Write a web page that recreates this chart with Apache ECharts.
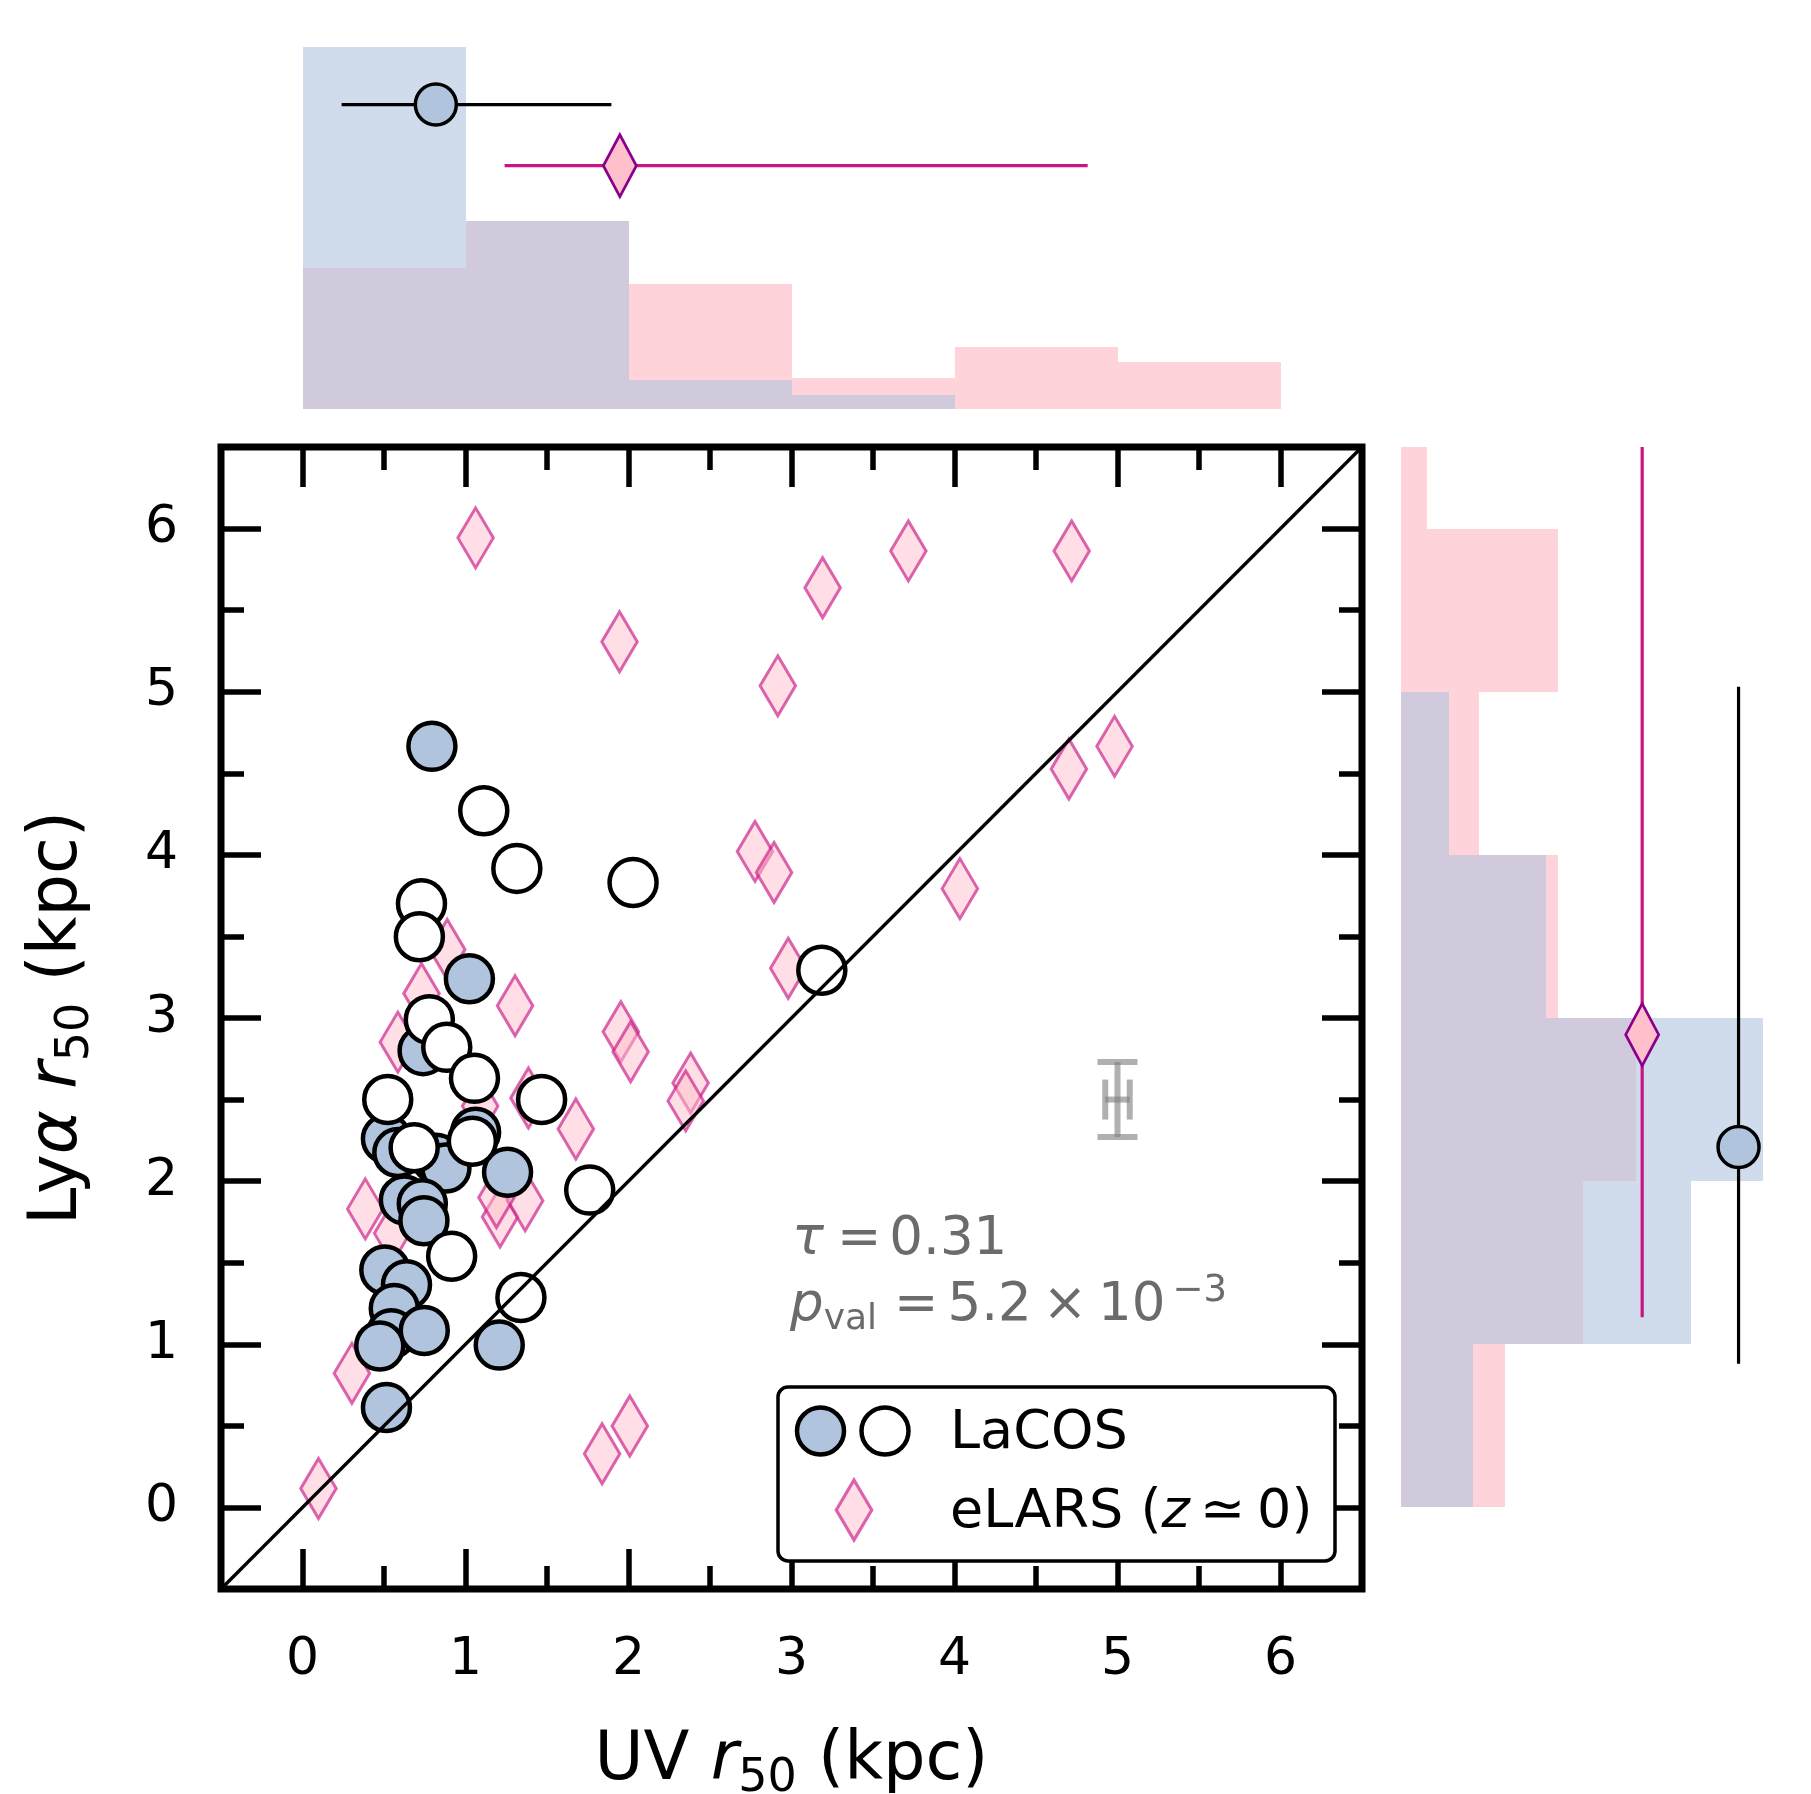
<!DOCTYPE html>
<html>
<head>
<meta charset="utf-8">
<title>Lya r50 vs UV r50</title>
<script src="https://cdn.jsdelivr.net/npm/echarts@6/dist/echarts.min.js"></script>
<style>
    html, body { margin: 0; padding: 0; background: #fff; }
    #chart { width: 1811px; height: 1794px; }
</style>
</head>
<body>
<div id="chart"></div>
<script>
    // LaCOS, filled circles: [UV r50, Lya r50] (kpc)
    const lacosFilled = [
        [0.794, 4.665], [1.024, 3.240], [0.740, 2.800], [0.515, 2.260], [0.585, 2.175],
        [0.820, 2.140], [0.880, 2.080], [1.062, 2.300], [1.258, 2.055], [0.625, 1.885],
        [0.735, 1.862], [0.745, 1.757], [0.505, 1.455], [0.638, 1.365], [0.563, 1.220],
        [0.545, 1.065], [0.474, 0.990], [0.747, 1.085], [1.207, 0.995], [0.515, 0.612]
    ];
    // LaCOS, open circles
    const lacosOpen = [
        [1.112, 4.270], [1.315, 3.917], [2.028, 3.830], [0.730, 3.700], [0.717, 3.498],
        [3.186, 3.293], [0.778, 2.990], [0.885, 2.820], [1.055, 2.630], [0.523, 2.500],
        [1.467, 2.500], [1.042, 2.245], [0.685, 2.205], [1.762, 1.945], [0.915, 1.540],
        [1.340, 1.287]
    ];
    // eLARS (z ~ 0)
    const elars = [
        [1.062, 5.943], [1.945, 5.306], [3.191, 5.637], [3.717, 5.863], [4.719, 5.863],
        [2.916, 5.036], [4.982, 4.665], [4.702, 4.526], [2.776, 4.021], [2.893, 3.892],
        [4.033, 3.793], [2.980, 3.305], [1.304, 3.075], [1.953, 2.916], [2.013, 2.793],
        [2.381, 2.601], [2.351, 2.492], [1.677, 2.320], [0.385, 1.830], [0.303, 0.822],
        [0.098, 0.116], [1.838, 0.329], [2.008, 0.499], [1.212, 1.780], [1.366, 1.880],
        [0.585, 2.852], [0.730, 3.150], [0.888, 3.420], [1.386, 2.510], [1.090, 2.460],
        [0.550, 1.680], [1.190, 1.900]
    ];
    // typical error [x, y, xerr, yerr]
    const typicalErr = [[5.0, 2.5, 0.075, 0.23]];

    // histograms (density), bins of 1 kpc
    const binEdges = [0, 1, 2, 3, 4, 5, 6, 7];
    const uvDensLacos = [0.610, 0.317, 0.049, 0.024, 0, 0];
    const uvDensElars = [0.237, 0.316, 0.211, 0.053, 0.105, 0.079];
    const lyaDensLacos = [0.077, 0.308, 0.385, 0.154, 0.051, 0, 0];
    const lyaDensElars = [0.111, 0.194, 0.250, 0.167, 0.083, 0.167, 0.028];

    // [16th pct, median, 84th pct]
    const uvStatLacos = [0.24, 0.818, 1.895];
    const uvStatElars = [1.24, 1.947, 4.817];
    const lyaStatLacos = [0.881, 2.209, 5.03];
    const lyaStatElars = [1.166, 2.898, 6.8];

    const axisRange = [-0.5, 6.5];
    const majorTicks = [0, 1, 2, 3, 4, 5, 6];
    const minorTicks = [0.5, 1.5, 2.5, 3.5, 4.5, 5.5];

    const FONT = 'DejaVu Sans';
    const BLUE = '#B0C4DE';
    const GREY_TXT = '#6b6b6b';
    const HIST_BLUE = 'rgba(176,196,222,0.6)';
    const HIST_PINK = 'rgba(255,192,203,0.7)';
    const DIA_FILL = 'rgba(255,192,203,0.5)';
    const DIA_EDGE = 'rgba(199,21,133,0.65)';

    function tickAxis(grid, position, values, len, labels, extra) {
        const bottom = position === 'bottom';
        return Object.assign({
            gridIndex: grid,
            type: 'value',
            position: position,
            min: axisRange[0],
            max: axisRange[1],
            axisLine: {show: false, onZero: false},
            splitLine: {show: false},
            axisTick: {
                show: true, inside: true, length: len, customValues: values,
                lineStyle: {color: '#000', width: 5.5}
            },
            axisLabel: labels ? {
                show: true, customValues: values, margin: bottom ? 45 : 43,
                fontSize: 52, fontFamily: FONT, color: '#000'
            } : {show: false}
        }, extra || {});
    }

    function hiddenAxis(grid, min, max) {
        return {gridIndex: grid, type: 'value', min: min, max: max, show: false,
            axisLine: {onZero: false}, splitLine: {show: false}};
    }

    //直方图
    function histSeries(dens, horizontal, xi, yi, fill, z) {
        return {
            type: 'custom', xAxisIndex: xi, yAxisIndex: yi, clip: true, silent: true, z: z,
            data: dens.map(function (d, i) { return [binEdges[i], binEdges[i + 1], d]; }),
            renderItem: function (params, api) {
                const a = api.value(0), b = api.value(1), h = api.value(2);
                const p0 = horizontal ? api.coord([0, a]) : api.coord([a, 0]);
                const p1 = horizontal ? api.coord([h, b]) : api.coord([b, h]);
                const x0 = Math.round(Math.min(p0[0], p1[0])), x1 = Math.round(Math.max(p0[0], p1[0]));
                const y0 = Math.round(Math.min(p0[1], p1[1])), y1 = Math.round(Math.max(p0[1], p1[1]));
                return {type: 'rect', shape: {x: x0, y: y0, width: x1 - x0, height: y1 - y0},
                    style: {fill: fill}};
            }
        };
    }

    // summary error bar (median + percentiles) drawn over the histograms
    function statSeries(stat, pos, horizontal, xi, yi, color, z) {
        return {
            type: 'custom', xAxisIndex: xi, yAxisIndex: yi, clip: true, silent: true, z: z,
            data: [[stat[0], stat[2], pos]],
            renderItem: function (params, api) {
                const lo = api.value(0), hi = api.value(1), p = api.value(2);
                const a = horizontal ? api.coord([lo, p]) : api.coord([p, lo]);
                const b = horizontal ? api.coord([hi, p]) : api.coord([p, hi]);
                return {type: 'line', shape: {x1: a[0], y1: a[1], x2: b[0], y2: b[1]},
                    style: {stroke: color, lineWidth: 3.2}};
            }
        };
    }

    function medianMarker(point, xi, yi, isCircle, z) {
        return {
            type: 'scatter', xAxisIndex: xi, yAxisIndex: yi, silent: true, z: z,
            data: [point],
            symbol: isCircle ? 'circle' : 'diamond',
            symbolSize: isCircle ? 41 : [33, 62],
            itemStyle: isCircle
                ? {color: BLUE, borderColor: '#000', borderWidth: 3.5, opacity: 1}
                : {color: '#FFC0CB', borderColor: '#8B008B', borderWidth: 3, opacity: 1}
        };
    }

    const chart = echarts.init(document.getElementById('chart'), null, {renderer: 'canvas'});

    const titleRich = {
        n: {fontFamily: FONT, fontSize: 67, color: '#000'},
        i: {fontFamily: FONT, fontSize: 67, fontStyle: 'italic', color: '#000'},
        s: {fontFamily: FONT, fontSize: 46, color: '#000', padding: [35, 0, 0, 0]}
    };

    const option = {
        animation: false,
        backgroundColor: '#fff',
        textStyle: {fontFamily: FONT},
        grid: [
            {left: 221, top: 447, width: 1141, height: 1142, show: true, outerBoundsMode: 'none',
                containLabel: false, borderColor: '#000', borderWidth: 7, backgroundColor: 'transparent'},
            {left: 221, top: 47, width: 1141, height: 362, outerBoundsMode: 'none', containLabel: false},
            {left: 1401, top: 447, width: 362, height: 1142, outerBoundsMode: 'none', containLabel: false}
        ],
        xAxis: [
            tickAxis(0, 'bottom', majorTicks, 40, true, {
                name: '{n|UV }{i|r}{s|50}{n| (kpc)}',
                nameLocation: 'middle',
                nameGap: 132,
                nameTextStyle: {fontFamily: FONT, fontSize: 67, color: '#000', rich: titleRich}
            }),
            tickAxis(0, 'bottom', minorTicks, 23, false),
            tickAxis(0, 'top', majorTicks, 40, false),
            tickAxis(0, 'top', minorTicks, 23, false),
            hiddenAxis(1, axisRange[0], axisRange[1]),
            hiddenAxis(2, 0, 0.385)
        ],
        yAxis: [
            tickAxis(0, 'left', majorTicks, 40, true, {
                name: '{n|Ly}{i|α}{n| }{i|r}{s|50}{n| (kpc)}',
                nameLocation: 'middle',
                nameGap: 122,
                nameTextStyle: {fontFamily: FONT, fontSize: 67, color: '#000', rich: titleRich}
            }),
            tickAxis(0, 'left', minorTicks, 23, false),
            tickAxis(0, 'right', majorTicks, 40, false),
            tickAxis(0, 'right', minorTicks, 23, false),
            hiddenAxis(1, 0, 0.61),
            hiddenAxis(2, axisRange[0], axisRange[1])
        ],
        series: [
            // top histogram (UV r50)
            histSeries(uvDensElars, false, 4, 4, HIST_PINK, 1),
            histSeries(uvDensLacos, false, 4, 4, HIST_BLUE, 2),
            statSeries(uvStatLacos, 0.513, true, 4, 4, '#000', 3),
            statSeries(uvStatElars, 0.41, true, 4, 4, '#C71585', 3),
            medianMarker([uvStatLacos[1], 0.513], 4, 4, true, 4),
            medianMarker([uvStatElars[1], 0.41], 4, 4, false, 4),

            // right histogram (Lya r50)
            histSeries(lyaDensElars, true, 5, 5, HIST_PINK, 1),
            histSeries(lyaDensLacos, true, 5, 5, HIST_BLUE, 2),
            statSeries(lyaStatElars, 0.2565, false, 5, 5, '#C71585', 3),
            statSeries(lyaStatLacos, 0.359, false, 5, 5, '#000', 3),
            medianMarker([0.2565, lyaStatElars[1]], 5, 5, false, 4),
            medianMarker([0.359, lyaStatLacos[1]], 5, 5, true, 4),

            // main scatter
            {
                name: 'eLARS', type: 'scatter', xAxisIndex: 0, yAxisIndex: 0, z: 2, silent: true,
                data: elars, symbol: 'diamond', symbolSize: [35.5, 60],
                itemStyle: {color: DIA_FILL, borderColor: DIA_EDGE, borderWidth: 3.2, opacity: 1}
            },
            {
                name: 'LaCOS', type: 'scatter', xAxisIndex: 0, yAxisIndex: 0, z: 3, silent: true,
                data: lacosFilled, symbol: 'circle', symbolSize: 47,
                itemStyle: {color: BLUE, borderColor: '#000', borderWidth: 4.5, opacity: 1}
            },
            {
                name: 'LaCOS open', type: 'scatter', xAxisIndex: 0, yAxisIndex: 0, z: 4, silent: true,
                data: lacosOpen, symbol: 'circle', symbolSize: 47,
                itemStyle: {color: '#fff', borderColor: '#000', borderWidth: 4.5, opacity: 1}
            },
            {
                name: '1:1', type: 'line', xAxisIndex: 0, yAxisIndex: 0, z: 5, silent: true,
                data: [[axisRange[0], axisRange[0]], [axisRange[1], axisRange[1]]],
                symbol: 'none', lineStyle: {color: '#000', width: 3.3}
            },
            {
                name: 'typical error', type: 'custom', xAxisIndex: 0, yAxisIndex: 0, z: 5, silent: true,
                data: typicalErr,
                renderItem: function (params, api) {
                    const x = api.value(0), y = api.value(1), xe = api.value(2), ye = api.value(3);
                    const t = api.coord([x, y + ye]), b = api.coord([x, y - ye]);
                    const l = api.coord([x - xe, y]), r = api.coord([x + xe, y]);
                    const cap = 20;
                    const st = {stroke: 'rgba(128,128,128,0.62)', lineWidth: 6};
                    const seg = function (x1, y1, x2, y2) {
                        return {type: 'line', shape: {x1: x1, y1: y1, x2: x2, y2: y2}, style: st};
                    };
                    return {type: 'group', children: [
                        seg(t[0], t[1], b[0], b[1]),
                        seg(t[0] - cap, t[1], t[0] + cap, t[1]),
                        seg(b[0] - cap, b[1], b[0] + cap, b[1]),
                        seg(l[0], l[1], r[0], r[1]),
                        seg(l[0], l[1] - cap, l[0], l[1] + cap),
                        seg(r[0], r[1] - cap, r[0], r[1] + cap)
                    ]};
                }
            }
        ],
        graphic: [
            // Kendall tau
            {
                type: 'text', z: 50, x: 792, y: 1240,
                style: {
                    text: '{i|τ}{e|=}{n|0.31}', verticalAlign: 'middle', align: 'left',
                    rich: {
                        n: {fontFamily: FONT, fontSize: 53, fill: GREY_TXT},
                        e: {fontFamily: FONT, fontSize: 53, fill: GREY_TXT, padding: [0, 8, 0, 13]},
                        i: {fontFamily: FONT, fontSize: 53, fontStyle: 'italic', fill: GREY_TXT}
                    }
                }
            },
            {
                type: 'text', z: 50, x: 790, y: 1306,
                style: {
                    text: '{i|p}{s|val}{e|=}{n|5.2}{x|×}{n|10}{u|−3}', verticalAlign: 'middle', align: 'left',
                    rich: {
                        n: {fontFamily: FONT, fontSize: 53, fill: GREY_TXT},
                        e: {fontFamily: FONT, fontSize: 53, fill: GREY_TXT, padding: [0, 9, 0, 17]},
                        x: {fontFamily: FONT, fontSize: 53, fill: GREY_TXT, padding: [0, 11, 0, 11]},
                        i: {fontFamily: FONT, fontSize: 53, fontStyle: 'italic', fill: GREY_TXT},
                        s: {fontFamily: FONT, fontSize: 36, fill: GREY_TXT, padding: [28, 0, 0, 0]},
                        u: {fontFamily: FONT, fontSize: 37, fill: GREY_TXT, padding: [0, 0, 30, 7]}
                    }
                }
            },
            // legend
            {
                type: 'rect', z: 100,
                shape: {x: 778, y: 1387, width: 557, height: 174, r: 10},
                style: {fill: '#fff', stroke: '#000', lineWidth: 3.5}
            },
            {
                type: 'circle', z: 101, shape: {cx: 820.5, cy: 1431, r: 23.5},
                style: {fill: BLUE, stroke: '#000', lineWidth: 4.5}
            },
            {
                type: 'circle', z: 101, shape: {cx: 885, cy: 1431, r: 23.5},
                style: {fill: '#fff', stroke: '#000', lineWidth: 4.5}
            },
            {
                type: 'polygon', z: 101,
                shape: {points: [[854, 1480], [871.75, 1510], [854, 1540], [836.25, 1510]]},
                style: {fill: DIA_FILL, stroke: DIA_EDGE, lineWidth: 3.2}
            },
            {
                type: 'text', z: 101, x: 950, y: 1434,
                style: {text: 'LaCOS', fontFamily: FONT, fontSize: 54, fill: '#000',
                    verticalAlign: 'middle', align: 'left'}
            },
            {
                type: 'text', z: 101, x: 950, y: 1513,
                style: {
                    text: '{n|eLARS (}{i|z}{e|≃}{n|0)}', verticalAlign: 'middle', align: 'left',
                    rich: {
                        n: {fontFamily: FONT, fontSize: 54, fill: '#000'},
                        e: {fontFamily: FONT, fontSize: 54, fill: '#000', padding: [0, 12, 0, 10]},
                        i: {fontFamily: FONT, fontSize: 54, fontStyle: 'italic', fill: '#000'}
                    }
                }
            }
        ]
    };

    chart.setOption(option, true);
    window.addEventListener('resize', function () { chart.resize(); });
</script>
</body>
</html>
